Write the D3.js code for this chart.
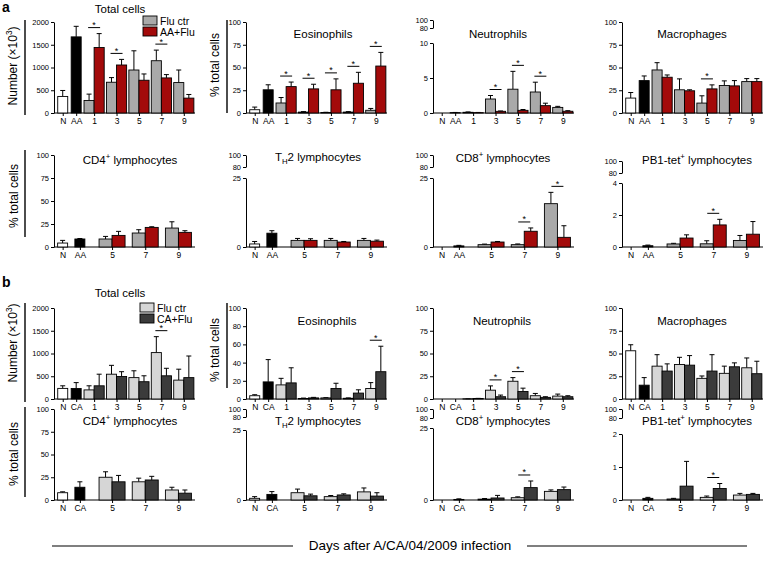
<!DOCTYPE html>
<html><head><meta charset="utf-8">
<script src="https://cdn.jsdelivr.net/npm/d3@7"></script>
<style>
body{margin:0;background:#fff}
svg{display:block}
text{font-family:"Liberation Sans",Arial,Helvetica,sans-serif;fill:#000}
</style>
</head><body>
<svg id="c" width="763" height="576"></svg>
<script>
// ---------------- categories ----------------
const singlesA = ["N", "AA"];
const singlesB = ["N", "CA"];
const daysAll = ["1", "3", "5", "7", "9"];
const daysLym = ["5", "7", "9"];
const seriesA = ["Flu ctr", "AA+Flu"];
const seriesB = ["Flu ctr", "CA+Flu"];

// ---------------- panel a ----------------
const aTotBase = [364, 1673], aTotBaseErr = [131, 232];
const aTotCtr = [276, 676, 945, 1149, 669], aTotCtrErr = [139, 102, 422, 233, 276];
const aTotTrt = [1440, 1055, 720, 771, 327], aTotTrtErr = [305, 123, 138, 73, 80];
const aTotSig = ["1", "3", "7"];

const aEosBase = [3.6, 25.5], aEosBaseErr = [2.9, 5.5];
const aEosCtr = [11, 1, 0.5, 1, 3], aEosCtrErr = [6, 0.5, 0.3, 0.5, 2];
const aEosTrt = [29, 26.5, 25.5, 32.7, 51.6], aEosTrtErr = [5, 5.1, 12, 12, 15];
const aEosSig = ["1", "3", "5", "7", "9"];

const aNeuBase = [0, 0.05], aNeuBaseErr = [0, 0.03];
const aNeuCtr = [0.1, 2.0, 3.4, 3.0, 0.8], aNeuCtrErr = [0.05, 0.5, 2.55, 1.4, 0.15];
const aNeuTrt = [0.05, 0.24, 0.38, 1.05, 0.25], aNeuTrtErr = [0.03, 0.05, 0.12, 0.35, 0.08];
const aNeuSig = ["3", "5", "7"];

const aMacBase = [16.4, 35.6], aMacBaseErr = [6.1, 5.1];
const aMacCtr = [47.3, 25.5, 10.9, 30.2, 34.5], aMacCtrErr = [8, 12, 8, 5.1, 3.3];
const aMacTrt = [39.3, 24.4, 26.5, 29.8, 34.5], aMacTrtErr = [2.5, 1.1, 4.4, 5.8, 3.3];
const aMacSig = ["5"];

const aCD4Base = [4.3, 8.7], aCD4BaseErr = [2.9, 0.5];
const aCD4Ctr = [8.7, 15.2, 20.6], aCD4CtrErr = [2.8, 3.6, 6.8];
const aCD4Trt = [12.6, 21.3, 15.9], aCD4TrtErr = [4.4, 0.7, 1.8];
const aCD4Sig = [];

const aTh2Base = [1.1, 5.0], aTh2BaseErr = [0.9, 0.9];
const aTh2Ctr = [2.4, 2.4, 2.4], aTh2CtrErr = [0.7, 0.7, 0.7];
const aTh2Trt = [2.4, 1.8, 2.1], aTh2TrtErr = [0.6, 0.2, 0.4];
const aTh2Sig = [];

const aCD8Base = [0, 0.4], aCD8BaseErr = [0, 0.2];
const aCD8Ctr = [0.85, 0.85, 15.7], aCD8CtrErr = [0.2, 0.25, 4.1];
const aCD8Trt = [1.8, 5.7, 3.5], aCD8TrtErr = [0.2, 1.2, 4.2];
const aCD8Sig = ["7", "9"];

const aPB1Base = [0, 0.08], aPB1BaseErr = [0, 0.04];
const aPB1Ctr = [0.19, 0.2, 0.41], aPB1CtrErr = [0.04, 0.19, 0.31];
const aPB1Trt = [0.56, 1.38, 0.8], aPB1TrtErr = [0.2, 0.35, 0.79];
const aPB1Sig = ["7"];

// ---------------- panel b ----------------
const bTotBase = [233, 230], bTotBaseErr = [57, 130];
const bTotCtr = [200, 545, 470, 1020, 415], bTotCtrErr = [90, 195, 150, 350, 240];
const bTotTrt = [290, 495, 380, 510, 470], bTotTrtErr = [255, 105, 130, 165, 475];
const bTotSig = ["7"];

const bEosBase = [3.6, 18.8], bEosBaseErr = [1.1, 24.5];
const bEosCtr = [15.5, 0.5, 1.2, 0.8, 11.5], bEosCtrErr = [7.2, 0.5, 0.3, 0.4, 6.5];
const bEosTrt = [17.7, 1.2, 11.5, 6.5, 30], bEosTrtErr = [16.6, 0.6, 5.8, 3.6, 28];
const bEosSig = ["9"];

const bNeuBase = [0, 0], bNeuBaseErr = [0, 0];
const bNeuCtr = [0.2, 9.7, 19.5, 3.6, 3.2], bNeuCtrErr = [0.1, 4.7, 4, 2.5, 2.2];
const bNeuTrt = [0.5, 2.5, 8.3, 1.8, 2.5], bNeuTrtErr = [0.2, 1.8, 3.6, 0.7, 1.1];
const bNeuSig = ["3", "5"];

const bMacBase = [53, 15.2], bMacBaseErr = [6.6, 8.3];
const bMacCtr = [36.1, 37.9, 22.7, 28.2, 34.3], bMacCtrErr = [12.6, 7.9, 2.6, 7.9, 10.8];
const bMacTrt = [30.7, 37.2, 30.7, 35.4, 27.8], bMacTrtErr = [7.9, 10.5, 18, 4.3, 13.7];
const bMacSig = [];

const bCD4Base = [8, 14], bCD4BaseErr = [1, 6];
const bCD4Ctr = [25, 20, 11], bCD4CtrErr = [6, 4, 3];
const bCD4Trt = [20, 22, 7.5], bCD4TrtErr = [7, 4, 3.5];
const bCD4Sig = [];

const bTh2Base = [0.6, 2.0], bTh2BaseErr = [0.6, 1.0];
const bTh2Ctr = [2.6, 1.2, 2.9], bTh2CtrErr = [1.3, 0.4, 1.4];
const bTh2Trt = [1.5, 1.8, 1.4], bTh2TrtErr = [0.6, 0.4, 1.2];
const bTh2Sig = [];

const bCD8Base = [0, 0.2], bCD8BaseErr = [0, 0.2];
const bCD8Ctr = [0.3, 0.8, 3.0], bCD8CtrErr = [0.2, 0.3, 0.5];
const bCD8Trt = [0.7, 4.3, 3.6], bCD8TrtErr = [0.9, 2.3, 0.9];
const bCD8Sig = ["7"];

const bPB1Base = [0, 0.05], bPB1BaseErr = [0, 0.03];
const bPB1Ctr = [0.03, 0.08, 0.15], bPB1CtrErr = [0.02, 0.04, 0.05];
const bPB1Trt = [0.42, 0.35, 0.17], bPB1TrtErr = [0.75, 0.15, 0.03];
const bPB1Sig = ["7"];

// tick values
const ticksTot = [0, 500, 1000, 1500, 2000];
const ticks25 = [0, 25, 50, 75, 100];
const ticks20 = [0, 20, 40, 60, 80, 100];
const ticksBrkUpper = [80, 100];

// ---------------- layout / style ----------------
const colA = {base: ["#ffffff", "#000000"], ctr: "#a9a9a9", trt: "#a30a0a"};
const colB = {base: ["#ffffff", "#000000"], ctr: "#d6d6d6", trt: "#3b3b3b"};
const rowsL = {
  a1: {top: 22, bottom: 113},
  a2: {top: 155, bottom: 247},
  b1: {top: 308, bottom: 399},
  b2: {top: 409, bottom: 500}
};
const colX = [54, 246, 433, 622];

const T = (t) => [{t}];
const panels = [
  {row:"a1",col:0,s:singlesA,d:daysAll,base:aTotBase,baseE:aTotBaseErr,ctr:aTotCtr,ctrE:aTotCtrErr,trt:aTotTrt,trtE:aTotTrtErr,sig:aTotSig,max:2000,ticks:ticksTot,title:T("Total cells"),tx:120,ty:13,c:colA},
  {row:"a1",col:1,s:singlesA,d:daysAll,base:aEosBase,baseE:aEosBaseErr,ctr:aEosCtr,ctrE:aEosCtrErr,trt:aEosTrt,trtE:aEosTrtErr,sig:aEosSig,max:100,ticks:ticks25,title:T("Eosinophils"),tx:323,ty:38,c:colA},
  {row:"a1",col:2,s:singlesA,d:daysAll,base:aNeuBase,baseE:aNeuBaseErr,ctr:aNeuCtr,ctrE:aNeuCtrErr,trt:aNeuTrt,trtE:aNeuTrtErr,sig:aNeuSig,max:10,ticks:[0,5,10],brk:{y100:20,y80:28,low:43},title:T("Neutrophils"),tx:498,ty:38,c:colA},
  {row:"a1",col:3,s:singlesA,d:daysAll,base:aMacBase,baseE:aMacBaseErr,ctr:aMacCtr,ctrE:aMacCtrErr,trt:aMacTrt,trtE:aMacTrtErr,sig:aMacSig,max:100,ticks:ticks25,title:T("Macrophages"),tx:692,ty:38,c:colA},
  {row:"a2",col:0,s:singlesA,d:daysLym,base:aCD4Base,baseE:aCD4BaseErr,ctr:aCD4Ctr,ctrE:aCD4CtrErr,trt:aCD4Trt,trtE:aCD4TrtErr,sig:aCD4Sig,max:100,ticks:ticks25,title:[{t:"CD4"},{t:"+",sup:1},{t:" lymphocytes"}],tx:130,ty:164,c:colA},
  {row:"a2",col:1,s:singlesA,d:daysLym,base:aTh2Base,baseE:aTh2BaseErr,ctr:aTh2Ctr,ctrE:aTh2CtrErr,trt:aTh2Trt,trtE:aTh2TrtErr,sig:aTh2Sig,max:25,ticks:[0,25],brk:{y100:155,y80:167,low:178},title:[{t:"T"},{t:"H",sub:1},{t:"2 lymphocytes"}],tx:318,ty:161,c:colA},
  {row:"a2",col:2,s:singlesA,d:daysLym,base:aCD8Base,baseE:aCD8BaseErr,ctr:aCD8Ctr,ctrE:aCD8CtrErr,trt:aCD8Trt,trtE:aCD8TrtErr,sig:aCD8Sig,max:25,ticks:[0,25],brk:{y100:155,y80:167,low:178},title:[{t:"CD8"},{t:"+",sup:1},{t:" lymphocytes"}],tx:503,ty:162,c:colA},
  {row:"a2",col:3,s:singlesA,d:daysLym,base:aPB1Base,baseE:aPB1BaseErr,ctr:aPB1Ctr,ctrE:aPB1CtrErr,trt:aPB1Trt,trtE:aPB1TrtErr,sig:aPB1Sig,max:4,ticks:[0,2,4],brk:{y100:161,y80:173,low:183},title:[{t:"PB1-tet"},{t:"+",sup:1},{t:" lymphocytes"}],tx:697,ty:164,c:colA},
  {row:"b1",col:0,s:singlesB,d:daysAll,base:bTotBase,baseE:bTotBaseErr,ctr:bTotCtr,ctrE:bTotCtrErr,trt:bTotTrt,trtE:bTotTrtErr,sig:bTotSig,max:2000,ticks:ticksTot,title:T("Total cells"),tx:120,ty:297,c:colB},
  {row:"b1",col:1,s:singlesB,d:daysAll,base:bEosBase,baseE:bEosBaseErr,ctr:bEosCtr,ctrE:bEosCtrErr,trt:bEosTrt,trtE:bEosTrtErr,sig:bEosSig,max:100,ticks:ticks20,title:T("Eosinophils"),tx:327,ty:325,c:colB},
  {row:"b1",col:2,s:singlesB,d:daysAll,base:bNeuBase,baseE:bNeuBaseErr,ctr:bNeuCtr,ctrE:bNeuCtrErr,trt:bNeuTrt,trtE:bNeuTrtErr,sig:bNeuSig,max:100,ticks:ticks25,title:T("Neutrophils"),tx:502,ty:325,c:colB},
  {row:"b1",col:3,s:singlesB,d:daysAll,base:bMacBase,baseE:bMacBaseErr,ctr:bMacCtr,ctrE:bMacCtrErr,trt:bMacTrt,trtE:bMacTrtErr,sig:bMacSig,max:100,ticks:ticks25,title:T("Macrophages"),tx:692,ty:325,c:colB},
  {row:"b2",col:0,s:singlesB,d:daysLym,base:bCD4Base,baseE:bCD4BaseErr,ctr:bCD4Ctr,ctrE:bCD4CtrErr,trt:bCD4Trt,trtE:bCD4TrtErr,sig:bCD4Sig,max:100,ticks:ticks25,title:[{t:"CD4"},{t:"+",sup:1},{t:" lymphocytes"}],tx:130,ty:425,c:colB},
  {row:"b2",col:1,s:singlesB,d:daysLym,base:bTh2Base,baseE:bTh2BaseErr,ctr:bTh2Ctr,ctrE:bTh2CtrErr,trt:bTh2Trt,trtE:bTh2TrtErr,sig:bTh2Sig,max:25,ticks:[0,25],brk:{y100:409,y80:417,low:430},title:[{t:"T"},{t:"H",sub:1},{t:"2 lymphocytes"}],tx:318,ty:425,c:colB},
  {row:"b2",col:2,s:singlesB,d:daysLym,base:bCD8Base,baseE:bCD8BaseErr,ctr:bCD8Ctr,ctrE:bCD8CtrErr,trt:bCD8Trt,trtE:bCD8TrtErr,sig:bCD8Sig,max:25,ticks:[0,25],brk:{y100:409,y80:418,low:428},title:[{t:"CD8"},{t:"+",sup:1},{t:" lymphocytes"}],tx:503,ty:425,c:colB},
  {row:"b2",col:3,s:singlesB,d:daysLym,base:bPB1Base,baseE:bPB1BaseErr,ctr:bPB1Ctr,ctrE:bPB1CtrErr,trt:bPB1Trt,trtE:bPB1TrtErr,sig:bPB1Sig,max:2,ticks:[0,1,2],brk:{y100:409,y80:418,low:434},title:[{t:"PB1-tet"},{t:"+",sup:1},{t:" lymphocytes"}],tx:697,ty:425,c:colB}
];

const yTitles = [
  {segs:[{t:"Number (\u00d710"},{t:"3",sup:1},{t:")"}], x:13, y:66, lx:25, ly0:20, ly1:115},
  {segs:T("% total cells"), x:215, y:65, lx:227, ly0:20, ly1:113},
  {segs:T("% total cells"), x:14, y:196, lx:25, ly0:150, ly1:237},
  {segs:[{t:"Number (\u00d710"},{t:"3",sup:1},{t:")"}], x:13, y:343, lx:25, ly0:303, ly1:402},
  {segs:T("% total cells"), x:215, y:350, lx:227, ly0:303, ly1:388},
  {segs:T("% total cells"), x:14, y:454, lx:25, ly0:407, ly1:497}
];

const svg = d3.select("#c");
const fmtInt = d3.format("d");

function rich(sel, segs, fs) {
  let shift = 0;
  segs.forEach(s => {
    const want = s.sup ? -fs * 0.4 : (s.sub ? fs * 0.25 : 0);
    sel.append("tspan").attr("dy", want - shift)
      .attr("font-size", (s.sup || s.sub) ? fs * 0.68 : fs).text(s.t);
    shift = want;
  });
}

function styleAxis(g, fs) {
  g.select(".domain").attr("stroke", "#000").attr("stroke-width", 1);
  g.selectAll(".tick line").attr("stroke", "#000").attr("stroke-width", 1);
  g.selectAll(".tick text").attr("font-size", fs).attr("font-family", '"Liberation Sans",Arial,sans-serif').attr("fill", "#000");
}

function drawPanel(p) {
  const R = rowsL[p.row];
  const ax = colX[p.col];
  const g = svg.append("g");
  const full = p.d.length === 5;
  const sW = full ? 0.6 : 0.52, gapW = full ? 0 : 0.21;
  let acc = 0; const pos = {};
  p.s.forEach(c => { pos[c] = acc + sW / 2; acc += sW; });
  acc += gapW;
  p.d.forEach(c => { pos[c] = acc + 0.5; acc += 1; });
  const x0 = ax + (full ? 2 : 0), x1 = ax + 141;
  const xs = d3.scaleLinear().domain([0, acc]).range([x0, x1]);
  const unit = xs(1) - xs(0);
  const cats = p.s.concat(p.d);
  const xc = d3.scaleOrdinal().domain(cats).range(cats.map(c => xs(pos[c])));
  const bwS = 10, bwP = Math.min(13, unit * 0.45);

  let y;
  if (p.brk) {
    y = d3.scaleLinear().domain([0, p.max]).range([R.bottom, p.brk.low]);
    const yU = d3.scaleLinear().domain([80, 100]).range([p.brk.y80, p.brk.y100]);
    const gu = g.append("g").attr("transform", `translate(${ax},0)`)
      .call(d3.axisLeft(yU).tickValues(ticksBrkUpper).tickFormat(fmtInt).tickSize(3).tickSizeOuter(0).tickPadding(2));
    styleAxis(gu, 7.5);
  } else {
    y = d3.scaleLinear().domain([0, p.max]).range([R.bottom, R.top]);
  }
  const gy = g.append("g").attr("transform", `translate(${ax},0)`)
    .call(d3.axisLeft(y).tickValues(p.ticks).tickFormat(fmtInt).tickSize(3).tickSizeOuter(0).tickPadding(2));
  styleAxis(gy, 7.5);

  const gx = g.append("g").attr("transform", `translate(0,${R.bottom})`)
    .call(d3.axisBottom(xc).tickSize(3).tickSizeOuter(0).tickPadding(2));
  styleAxis(gx, 8.5);
  gx.select(".domain").remove();
  g.append("line").attr("x1", ax).attr("x2", x1).attr("y1", R.bottom).attr("y2", R.bottom)
    .attr("stroke", "#000").attr("stroke-width", 1);

  const bars = [];
  p.s.forEach((c, i) => bars.push({x: xc(c) - bwS / 2, w: bwS, v: p.base[i], e: p.baseE[i], fill: p.c.base[i]}));
  p.d.forEach((c, i) => {
    bars.push({x: xc(c) - bwP, w: bwP, v: p.ctr[i], e: p.ctrE[i], fill: p.c.ctr});
    bars.push({x: xc(c), w: bwP, v: p.trt[i], e: p.trtE[i], fill: p.c.trt});
  });
  const eg = g.append("g").attr("stroke", "#000").attr("stroke-width", 1).attr("fill", "none");
  bars.forEach(b => {
    if (b.e <= 0) return;
    const cx = b.x + b.w / 2;
    eg.append("path").attr("d", `M${cx},${y(b.v)}V${y(b.v + b.e)}M${cx - 2.5},${y(b.v + b.e)}H${cx + 2.5}`);
  });
  g.append("g").selectAll("rect").data(bars).join("rect")
    .attr("x", b => b.x).attr("width", b => b.w)
    .attr("y", b => y(b.v)).attr("height", b => Math.max(0, R.bottom - y(b.v)))
    .attr("fill", b => b.fill).attr("stroke", "#000").attr("stroke-width", 0.9);

  p.sig.forEach(c => {
    const i = p.d.indexOf(c);
    const top = Math.max(p.ctr[i] + p.ctrE[i], p.trt[i] + p.trtE[i]);
    const yy = y(top) - 6;
    const cx = xc(c);
    g.append("line").attr("x1", cx - 6).attr("x2", cx + 6).attr("y1", yy).attr("y2", yy)
      .attr("stroke", "#000").attr("stroke-width", 1);
    g.append("text").attr("x", cx).attr("y", yy + 0.5).attr("text-anchor", "middle")
      .attr("font-size", 9).text("*");
  });

  const t = g.append("text").attr("x", p.tx).attr("y", p.ty).attr("text-anchor", "middle");
  rich(t, p.title, 11.5);
}

panels.forEach(drawPanel);

yTitles.forEach(t => {
  const tx = svg.append("text").attr("text-anchor", "middle")
    .attr("transform", `translate(${t.x + 4},${t.y}) rotate(-90)`);
  rich(tx, t.segs, 12);
  svg.append("line").attr("x1", t.lx).attr("x2", t.lx).attr("y1", t.ly0).attr("y2", t.ly1)
    .attr("stroke", "#000").attr("stroke-width", 1.4);
});

function legend(x, y, names, cols) {
  names.forEach((n, i) => {
    svg.append("rect").attr("x", x).attr("y", y + i * 11).attr("width", 14).attr("height", 9)
      .attr("fill", cols[i]).attr("stroke", "#000").attr("stroke-width", 0.9);
    svg.append("text").attr("x", x + 17).attr("y", y + i * 11 + 8.5).attr("font-size", 10.5).text(n);
  });
}
legend(143, 16, seriesA, [colA.ctr, colA.trt]);
legend(140, 303, seriesB, [colB.ctr, colB.trt]);

svg.append("text").attr("x", 2).attr("y", 12).attr("font-size", 14).attr("font-weight", "bold").text("a");
svg.append("text").attr("x", 2).attr("y", 287).attr("font-size", 14).attr("font-weight", "bold").text("b");

svg.append("line").attr("x1", 52).attr("x2", 293).attr("y1", 546).attr("y2", 546).attr("stroke", "#000").attr("stroke-width", 1.2);
svg.append("line").attr("x1", 527).attr("x2", 747).attr("y1", 546).attr("y2", 546).attr("stroke", "#000").attr("stroke-width", 1.2);
svg.append("text").attr("x", 410).attr("y", 550).attr("text-anchor", "middle").attr("font-size", 13.5)
  .text("Days after A/CA/04/2009 infection");
</script>
</body></html>
